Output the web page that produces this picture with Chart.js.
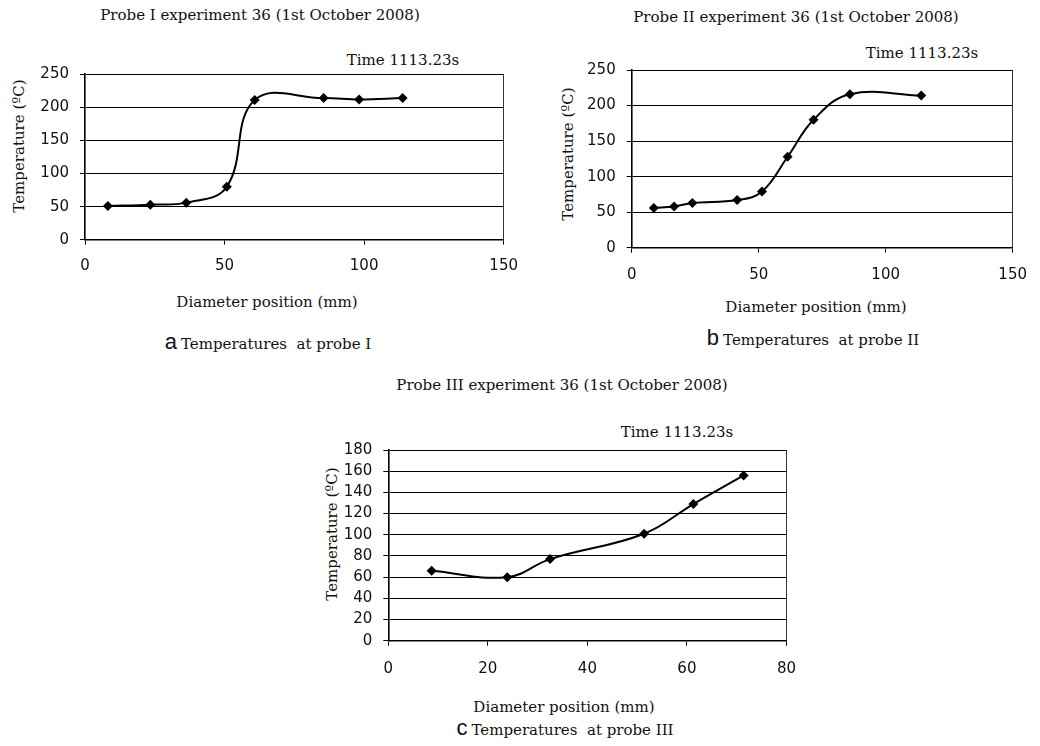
<!DOCTYPE html>
<html>
<head>
<meta charset="utf-8">
<script src="https://cdn.jsdelivr.net/npm/chart.js@4"></script>
<style>
  body { margin: 0; background: #fff; }
  #page { position: relative; width: 1040px; height: 746px; overflow: hidden;
          font-family: "DejaVu Serif", serif; font-size: 15px; color: #111; }
  .txt { position: absolute; white-space: nowrap; transform: translate(-50%, -50%); }
  .rot { transform: translate(-50%, -50%) rotate(-90deg); }
  .letter { font-family: "Liberation Sans", sans-serif; font-size: 22px; margin-right: 4px; }
  canvas { position: absolute; }
</style>
</head>
<body>
<div id="page">
  <div class="txt" style="left:260px; top:15px">Probe I experiment 36 (1st October 2008)</div>
  <div class="txt" style="left:796px; top:17px">Probe II experiment 36 (1st October 2008)</div>
  <div class="txt" style="left:562px; top:385px">Probe III experiment 36 (1st October 2008)</div>

  <div class="txt" style="left:403px; top:60px">Time 1113.23s</div>
  <div class="txt" style="left:922px; top:53px">Time 1113.23s</div>
  <div class="txt" style="left:677px; top:432px">Time 1113.23s</div>

  <div class="txt rot" style="left:19px; top:146px">Temperature (ºC)</div>
  <div class="txt rot" style="left:568px; top:154px">Temperature (ºC)</div>
  <div class="txt rot" style="left:332px; top:534px">Temperature (ºC)</div>

  <div class="txt" style="left:267px; top:302px">Diameter position (mm)</div>
  <div class="txt" style="left:816px; top:307px">Diameter position (mm)</div>
  <div class="txt" style="left:564px; top:707px">Diameter position (mm)</div>

  <div class="txt" style="left:268px; top:342px"><span class="letter">a</span>Temperatures&nbsp; at probe I</div>
  <div class="txt" style="left:813px; top:338px"><span class="letter">b</span>Temperatures&nbsp; at probe II</div>
  <div class="txt" style="left:565px; top:728px"><span class="letter">c</span>Temperatures&nbsp; at probe III</div>

  <canvas id="chart-probe1"></canvas>
  <canvas id="chart-probe2"></canvas>
  <canvas id="chart-probe3"></canvas>
</div>

<script>
// diameter position (mm) and temperature (ºC)
const probe1X = [8.2, 23.4, 36.3, 50.8, 60.8, 85.5, 98.2, 113.8];
const probe1Y = [51, 53, 56, 80, 211, 214, 212, 214];

const probe2X = [8.7, 16.7, 23.9, 41.5, 51.3, 61.4, 71.6, 85.9, 114];
const probe2Y = [56, 58, 63, 67, 79, 128, 180, 216, 214];

const probe3X = [8.7, 23.9, 32.5, 51.4, 61.3, 71.4];
const probe3Y = [66, 60, 77, 101, 129, 156];

// axis ranges
const xAxis12 = { max: 150, step: 50 };
const yAxis12 = { max: 250, step: 50 };
const xAxis3 = { max: 80, step: 20 };
const yAxis3 = { max: 180, step: 20 };

const tickFont = { family: '"DejaVu Sans", sans-serif', size: 15 };

function probeChart(id, box, area, xs, ys, xa, ya, xPad) {
    const el = document.getElementById(id);
    el.width = box.w;
    el.height = box.h;
    el.style.left = box.x + 'px';
    el.style.top = box.y + 'px';

    return new Chart(el.getContext('2d'), {
        type: 'line',
        data: {
            datasets: [{
                data: xs.map((x, i) => ({ x: x, y: ys[i] })),
                borderColor: '#000',
                borderWidth: 2,
                backgroundColor: '#000',
                pointStyle: 'rectRot',
                pointRadius: 5,
                pointBorderWidth: 0,
                pointBackgroundColor: '#000',
                tension: 0.4,
                fill: false
            }]
        },
        options: {
            responsive: false,
            animation: false,
            layout: {
                padding: {
                    left: 0,
                    top: area.top - box.y,
                    right: box.x + box.w - area.right,
                    bottom: 0
                }
            },
            plugins: { legend: { display: false }, tooltip: { enabled: false } },
            scales: {
                x: {
                    type: 'linear',
                    min: 0,
                    max: xa.max,
                    ticks: { stepSize: xa.step, color: '#111', font: tickFont, padding: xPad, maxRotation: 0 },
                    grid: {
                        color: c => (c.tick && c.tick.value === xa.max) ? '#333' : 'rgba(0,0,0,0)',
                        tickColor: '#000',
                        tickLength: 5,
                        lineWidth: 1
                    },
                    border: { color: '#000', width: 1.6 },
                    afterFit: s => { s.height = box.y + box.h - area.bottom; }
                },
                y: {
                    min: 0,
                    max: ya.max,
                    ticks: { stepSize: ya.step, color: '#111', font: tickFont, padding: 11, autoSkip: false },
                    grid: { color: '#000', tickColor: '#000', tickLength: 5, lineWidth: 1 },
                    border: { color: '#000', width: 1.6 },
                    afterFit: s => { s.width = area.left - box.x; }
                }
            }
        }
    });
}

probeChart('chart-probe1',
    { x: 30, y: 50, w: 500, h: 230 },
    { left: 85, right: 512.5, top: 74.3, bottom: 239.7 },
    probe1X, probe1Y, xAxis12, yAxis12, 12);

probeChart('chart-probe2',
    { x: 580, y: 50, w: 460, h: 230 },
    { left: 631.7, right: 1023.3, top: 69.3, bottom: 247.7 },
    probe2X, probe2Y, xAxis12, yAxis12, 13);

probeChart('chart-probe3',
    { x: 330, y: 430, w: 480, h: 250 },
    { left: 388.3, right: 788.7, top: 447.7, bottom: 640.7 },
    probe3X, probe3Y, xAxis3, yAxis3, 14);
</script>
</body>
</html>
